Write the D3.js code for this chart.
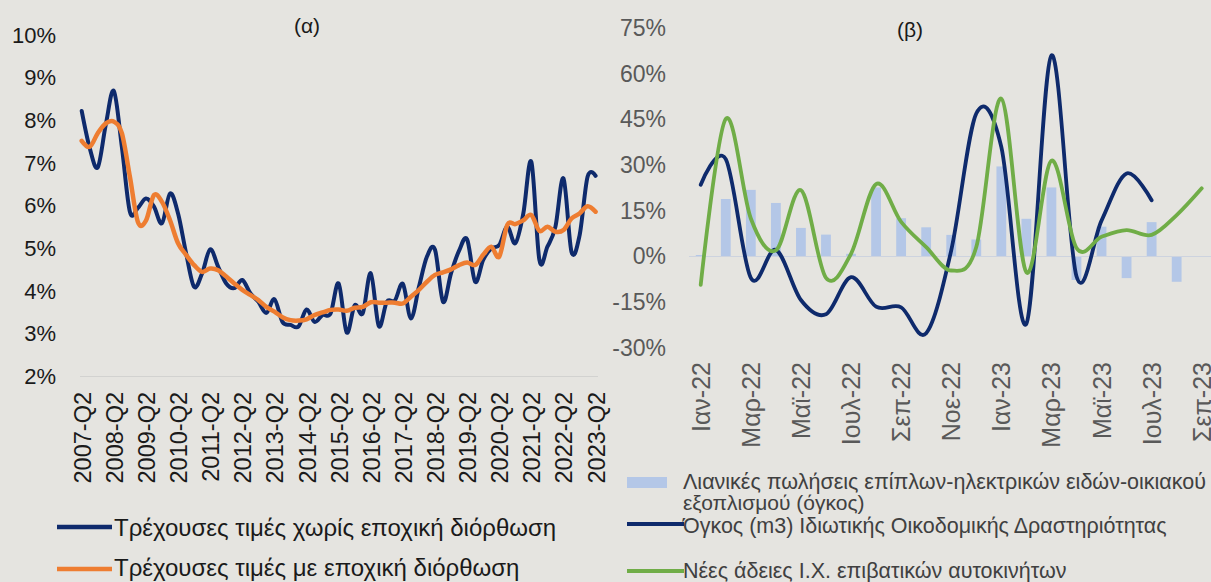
<!DOCTYPE html>
<html>
<head>
<meta charset="utf-8">
<script src="https://cdn.jsdelivr.net/npm/d3@7"></script>
<style>
html,body{margin:0;padding:0;background:#e5e4e0;}
svg{display:block;font-family:"Liberation Sans",Arial,sans-serif;}
</style>
</head>
<body>
<svg id="chart" width="1211" height="582"></svg>
<script>
// ---------- Data: panel (α) ----------
const quarterLabels = ["2007-Q2","2008-Q2","2009-Q2","2010-Q2","2011-Q2","2012-Q2","2013-Q2","2014-Q2",
  "2015-Q2","2016-Q2","2017-Q2","2018-Q2","2019-Q2","2020-Q2","2021-Q2","2022-Q2","2023-Q2"];
const leftYTicks = [2,3,4,5,6,7,8,9,10];
const seriesNSA = [8.22,7.35,6.9,7.9,8.69,7.38,5.86,5.95,6.17,5.98,5.59,6.29,5.82,4.89,4.10,4.42,
  4.98,4.57,4.18,4.07,4.26,3.95,3.75,3.49,3.81,3.28,3.21,3.17,3.57,3.28,3.44,3.48,
  4.18,3.03,3.67,3.48,4.42,3.18,3.75,3.78,4.17,3.36,4.10,4.81,4.97,3.75,4.42,4.95,
  5.21,4.22,4.73,5.00,5.08,5.51,5.12,5.82,7.03,4.73,5.04,5.51,6.64,4.92,5.30,6.68,6.70];
const seriesSA = [7.52,7.38,7.70,7.93,7.97,7.70,6.68,5.62,5.65,6.25,6.09,5.66,5.12,4.85,4.61,4.45,
  4.53,4.49,4.34,4.18,4.03,3.91,3.79,3.63,3.52,3.39,3.32,3.31,3.34,3.44,3.50,3.56,
  3.57,3.54,3.61,3.63,3.74,3.73,3.73,3.73,3.71,3.87,4.03,4.22,4.38,4.44,4.51,4.61,
  4.67,4.61,4.85,5.04,4.81,5.55,5.57,5.66,5.78,5.41,5.51,5.39,5.43,5.70,5.82,5.99,5.86];
const leftLegend = ["Τρέχουσες τιμές χωρίς εποχική διόρθωση","Τρέχουσες τιμές με εποχική διόρθωση"];

// ---------- Data: panel (β) ----------
const months = ["Ιαν-22","Φεβ-22","Μαρ-22","Απρ-22","Μαϊ-22","Ιουν-22","Ιουλ-22","Αυγ-22","Σεπ-22","Οκτ-22",
  "Νοε-22","Δεκ-22","Ιαν-23","Φεβ-23","Μαρ-23","Απρ-23","Μαϊ-23","Ιουν-23","Ιουλ-23","Αυγ-23","Σεπ-23"];
const rightYTicks = [-30,-15,0,15,30,45,60,75];
const retailSales = [0.5,18.9,21.9,17.6,9.4,7.2,0.9,22.7,12.6,9.6,7.1,5.6,29.6,12.4,22.7,-7.7,9.8,-7.1,11.3,-8.3,null];
const buildingVolume = [23.6,32,-7,2.2,-14.3,-19,-6.8,-16.5,-16.7,-25.2,2,47,36,-22.1,66.1,-6.5,11.8,27.3,18.5];
const newCars = [-9.3,45.2,12.5,2.0,21.8,-7,0.9,23.8,11.4,3.1,-4.6,3.1,51.9,-5.2,31.5,2.8,6.5,8.7,7.1,13.6,22.4];
const rightLegend = ["Λιανικές πωλήσεις επίπλων-ηλεκτρικών ειδών-οικιακού","εξοπλισμού (όγκος)",
  "Όγκος (m3) Ιδιωτικής Οικοδομικής Δραστηριότητας","Νέες άδειες Ι.Χ. επιβατικών αυτοκινήτων"];

// ---------- Styles ----------
const NAVY = "#0e2a6c", ORANGE = "#ee7d31", GREEN = "#70ad47", BAR = "#b4c7e7";
const svg = d3.select("#chart");
svg.append("rect").attr("width",1211).attr("height",582).attr("fill","#e5e4e0");

// ================= Panel α =================
const xL = d3.scaleLinear().domain([0, seriesNSA.length-1]).range([81.7, 595.6]);
const yL = d3.scaleLinear().domain([2,10]).range([376.5, 35]);
const gL = svg.append("g");

gL.append("line").attr("x1",80).attr("x2",598).attr("y1",yL(2)).attr("y2",yL(2))
  .attr("stroke","#d2d2d0").attr("stroke-width",1.2);

const yAxisL = d3.axisLeft(yL).tickValues(leftYTicks).tickFormat(d=>d+"%").tickSize(0).tickPadding(0);
const yaL = gL.append("g").attr("transform","translate(56,0)").call(yAxisL);
yaL.select(".domain").remove();
yaL.selectAll("text").attr("font-size",22).attr("fill","#1a1a1a").attr("font-family","Liberation Sans, Arial");

const xAxisL = d3.axisBottom(xL).tickValues(quarterLabels.map((d,i)=>i*4))
  .tickFormat(d=>quarterLabels[d/4]).tickSize(0).tickPadding(0);
const xaL = gL.append("g").attr("transform","translate(0,392)").call(xAxisL);
xaL.select(".domain").remove();
xaL.selectAll("text").attr("font-size",23.5).attr("fill","#1a1a1a").attr("font-family","Liberation Sans, Arial")
  .attr("transform","rotate(-90)").attr("text-anchor","end").attr("x",0).attr("y",0).attr("dy","0.36em");

const curve = d3.curveCardinal.tension(0);
const lineL = d3.line().x((d,i)=>xL(i)).y(d=>yL(d)).curve(curve);
gL.append("path").attr("d",lineL(seriesNSA)).attr("fill","none").attr("stroke",NAVY)
  .attr("stroke-width",4).attr("stroke-linecap","round").attr("stroke-linejoin","round");
gL.append("path").attr("d",lineL(seriesSA)).attr("fill","none").attr("stroke",ORANGE)
  .attr("stroke-width",4.5).attr("stroke-linecap","round").attr("stroke-linejoin","round");

gL.append("text").attr("x",307).attr("y",33).attr("text-anchor","middle").attr("font-size",21)
  .attr("fill","#1a1a1a").text("(α)");

// legend α
[[NAVY,527,535.5],[ORANGE,569,576]].forEach((c,k)=>{
  gL.append("line").attr("x1",57).attr("x2",112).attr("y1",c[1]).attr("y2",c[1])
    .attr("stroke",c[0]).attr("stroke-width",4.5);
  gL.append("text").attr("x",114).attr("y",c[2]).attr("font-size",24).attr("fill","#1a1a1a")
    .text(leftLegend[k]);
});

// ================= Panel β =================
const xR = d3.scaleBand().domain(months).range([688.2, 688.2 + 25.05*months.length]).padding(0);
const cx = m => xR(m) + xR.bandwidth()/2;
const yR = d3.scaleLinear().domain([-30,75]).range([347.8, 28.3]);
const gR = svg.append("g");

// bars
gR.selectAll("rect.bar").data(retailSales.map((v,i)=>({m:months[i],v})).filter(d=>d.v!==null))
  .enter().append("rect").attr("class","bar")
  .attr("x",d=>cx(d.m)-4.9).attr("width",9.8)
  .attr("y",d=>yR(Math.max(0,d.v))).attr("height",d=>Math.abs(yR(d.v)-yR(0)))
  .attr("fill",BAR);

gR.append("line").attr("x1",689).attr("x2",1211).attr("y1",yR(0)).attr("y2",yR(0))
  .attr("stroke","#cdd3df").attr("stroke-width",1.2);

const yAxisR = d3.axisLeft(yR).tickValues(rightYTicks).tickFormat(d=>d+"%").tickSize(0).tickPadding(0);
const yaR = gR.append("g").attr("transform","translate(666,0)").call(yAxisR);
yaR.select(".domain").remove();
yaR.selectAll("text").attr("font-size",23).attr("fill","#595959").attr("font-family","Liberation Sans, Arial");

const xAxisR = d3.axisBottom(xR).tickValues(months.filter((d,i)=>i%2===0)).tickSize(0).tickPadding(0);
const xaR = gR.append("g").attr("transform","translate(0,362)").call(xAxisR);
xaR.select(".domain").remove();
xaR.selectAll("text").attr("font-size",25).attr("fill","#595959").attr("font-family","Liberation Sans, Arial")
  .attr("transform","rotate(-90)").attr("text-anchor","end").attr("x",0).attr("y",0).attr("dy","0.36em");

const lineR = d3.line().x((d,i)=>cx(months[i])).y(d=>yR(d)).curve(curve);
gR.append("path").attr("d",lineR(buildingVolume)).attr("fill","none").attr("stroke",NAVY)
  .attr("stroke-width",3.8).attr("stroke-linecap","round").attr("stroke-linejoin","round");
gR.append("path").attr("d",lineR(newCars)).attr("fill","none").attr("stroke",GREEN)
  .attr("stroke-width",3.8).attr("stroke-linecap","round").attr("stroke-linejoin","round");

gR.append("text").attr("x",910).attr("y",37).attr("text-anchor","middle").attr("font-size",21)
  .attr("fill","#1a1a1a").text("(β)");

// legend β
gR.append("rect").attr("x",627).attr("y",477).attr("width",40).attr("height",11).attr("fill",BAR);
gR.append("text").attr("x",683).attr("y",489).attr("font-size",21.5).attr("fill","#404040").text(rightLegend[0]);
gR.append("text").attr("x",683).attr("y",510).attr("font-size",21).attr("fill","#404040").text(rightLegend[1]);
gR.append("line").attr("x1",627).attr("x2",684).attr("y1",524).attr("y2",524).attr("stroke",NAVY).attr("stroke-width",4);
gR.append("text").attr("x",683).attr("y",533).attr("font-size",21.5).attr("fill","#404040").text(rightLegend[2]);
gR.append("line").attr("x1",627).attr("x2",684).attr("y1",571).attr("y2",571).attr("stroke",GREEN).attr("stroke-width",4);
gR.append("text").attr("x",683).attr("y",578).attr("font-size",21.5).attr("fill","#404040").text(rightLegend[3]);
</script>
</body>
</html>
